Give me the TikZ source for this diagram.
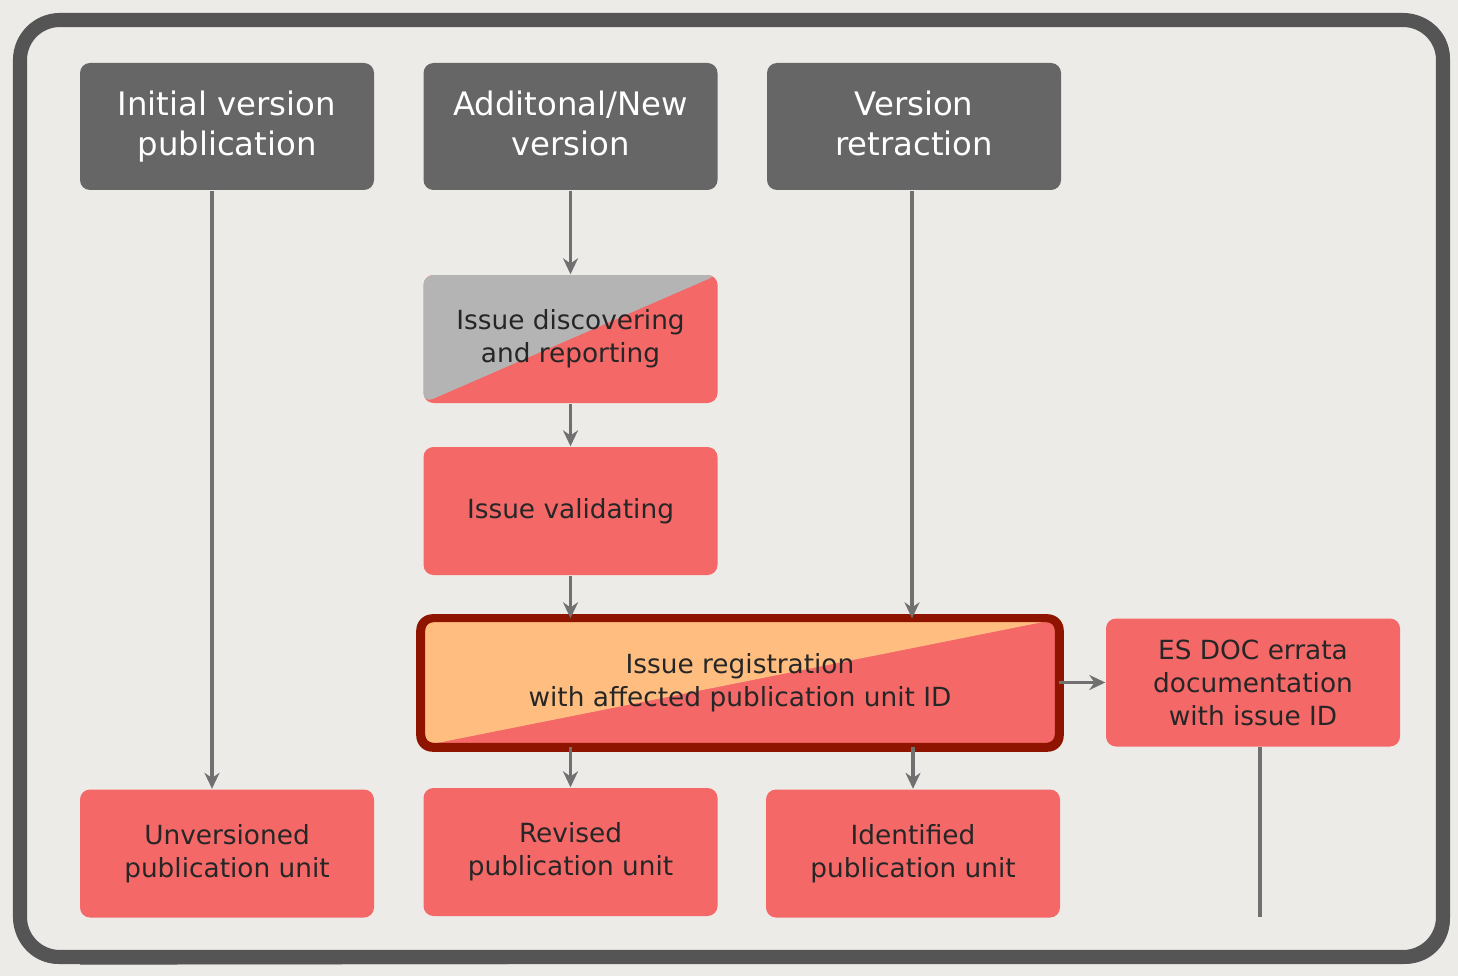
\documentclass[tikz,border=0pt]{standalone}
\usepackage{fontspec}
\setmainfont{DejaVu Sans}
\usetikzlibrary{arrows.meta}
\definecolor{paper}{HTML}{EDEBE7}
\definecolor{frameink}{HTML}{555555}
\definecolor{headgray}{HTML}{666666}
\definecolor{lightgray}{HTML}{B4B4B4}
\definecolor{boxred}{HTML}{F46868}
\definecolor{boxorange}{HTML}{FFBE80}
\definecolor{brickred}{HTML}{8E1400}
\definecolor{linkgray}{HTML}{707070}
\begin{document}
\begin{tikzpicture}[
  head/.style={fill=headgray,text=white,rounded corners=0.1cm,minimum width=2.94cm,minimum height=1.27cm,
    inner sep=0pt,align=center,font=\fontsize{9.2}{11.4}\selectfont,
    execute at begin node=\vphantom{Il},execute at end node=\vphantom{p}},
  redbox/.style={fill=boxred,text=black!85,rounded corners=0.1cm,minimum width=2.94cm,minimum height=1.28cm,
    inner sep=0pt,align=center,font=\fontsize{7.5}{9.4}\selectfont},
  halfbox/.style={redbox,path picture={\fill[#1] (path picture bounding box.north west)
    -- (path picture bounding box.north east) -- (path picture bounding box.south west) -- cycle;}},
  arr/.style={draw=linkgray,line width=1pt,-{Stealth[length=1.6mm,width=1.5mm]}},
  link/.style={draw=linkgray,line width=1pt}]
\useasboundingbox (0,0) rectangle (14.58,-9.76);
\fill[paper] (0,0) rectangle (14.58,-9.76);
% frame
\draw[frameink,line width=4pt,rounded corners=0.4cm] (0.2,-0.2) rectangle (14.43,-9.57);
\draw[frameink,line width=1pt,rounded corners=0.42cm] (0.16,-0.16) rectangle (14.48,-9.62);
\draw[frameink,line width=2pt] (6.5,-0.17) -- (14.1,-0.2);
\draw[frameink,line width=1.5pt] (0.8,-9.62) -- (14.0,-9.6);
\draw[frameink,line width=1.5pt] (14.47,-0.7) -- (14.46,-9.1);
% boxes
\node[head] (init) at (2.27,-1.265) {Initial version\\publication};
\node[head] (add) at (5.705,-1.265) {Additonal/New\\version};
\node[head] (retr) at (9.14,-1.265) {Version\\retraction};
\node[halfbox=lightgray] (disc) at (5.705,-3.39) {Issue discovering\\and reporting};
\node[redbox] (valid) at (5.705,-5.11) {Issue validating};
\node[halfbox=boxorange,minimum width=6.36cm,minimum height=1.27cm] (reg) at (7.40,-6.825)
  {Issue registration\\with affected publication unit ID};
\draw[brickred,line width=2.2pt,rounded corners=0.12cm] (reg.north west) rectangle (reg.south east);
\draw[brickred,line width=0.6pt,rounded corners=0.15cm] ([shift={(-0.04,0.03)}]reg.north west) rectangle ([shift={(0.04,-0.04)}]reg.south east);
\node[redbox] (esdoc) at (12.53,-6.825) {ES DOC errata\\documentation\\with issue ID};
\node[redbox] (unv) at (2.27,-8.535) {Unversioned\\publication unit};
\node[redbox] (rev) at (5.705,-8.52) {Revised\\publication unit};
\node[redbox] (ident) at (9.13,-8.535) {Identified\\publication unit};
\coordinate (tail) at (12.6,-9.17);
% links
\draw[arr] ([xshift=-0.15cm]init.south) -- ([xshift=-0.15cm]unv.north);
\draw[arr] (add) -- (disc);
\draw[arr] (disc) -- (valid);
\draw[arr] (valid) -- (valid |- reg.north);
\draw[arr] ([xshift=-0.02cm]retr.south) -- ([xshift=-0.02cm]retr.south |- reg.north);
\draw[arr] (reg.south -| rev) -- (rev);
\draw[arr] (reg.south -| ident) -- (ident);
\draw[arr] (reg) -- (esdoc);
\draw[link] ([xshift=0.07cm]esdoc.south) -- ([xshift=0.07cm]esdoc.south |- tail);
\end{tikzpicture}
\end{document}
